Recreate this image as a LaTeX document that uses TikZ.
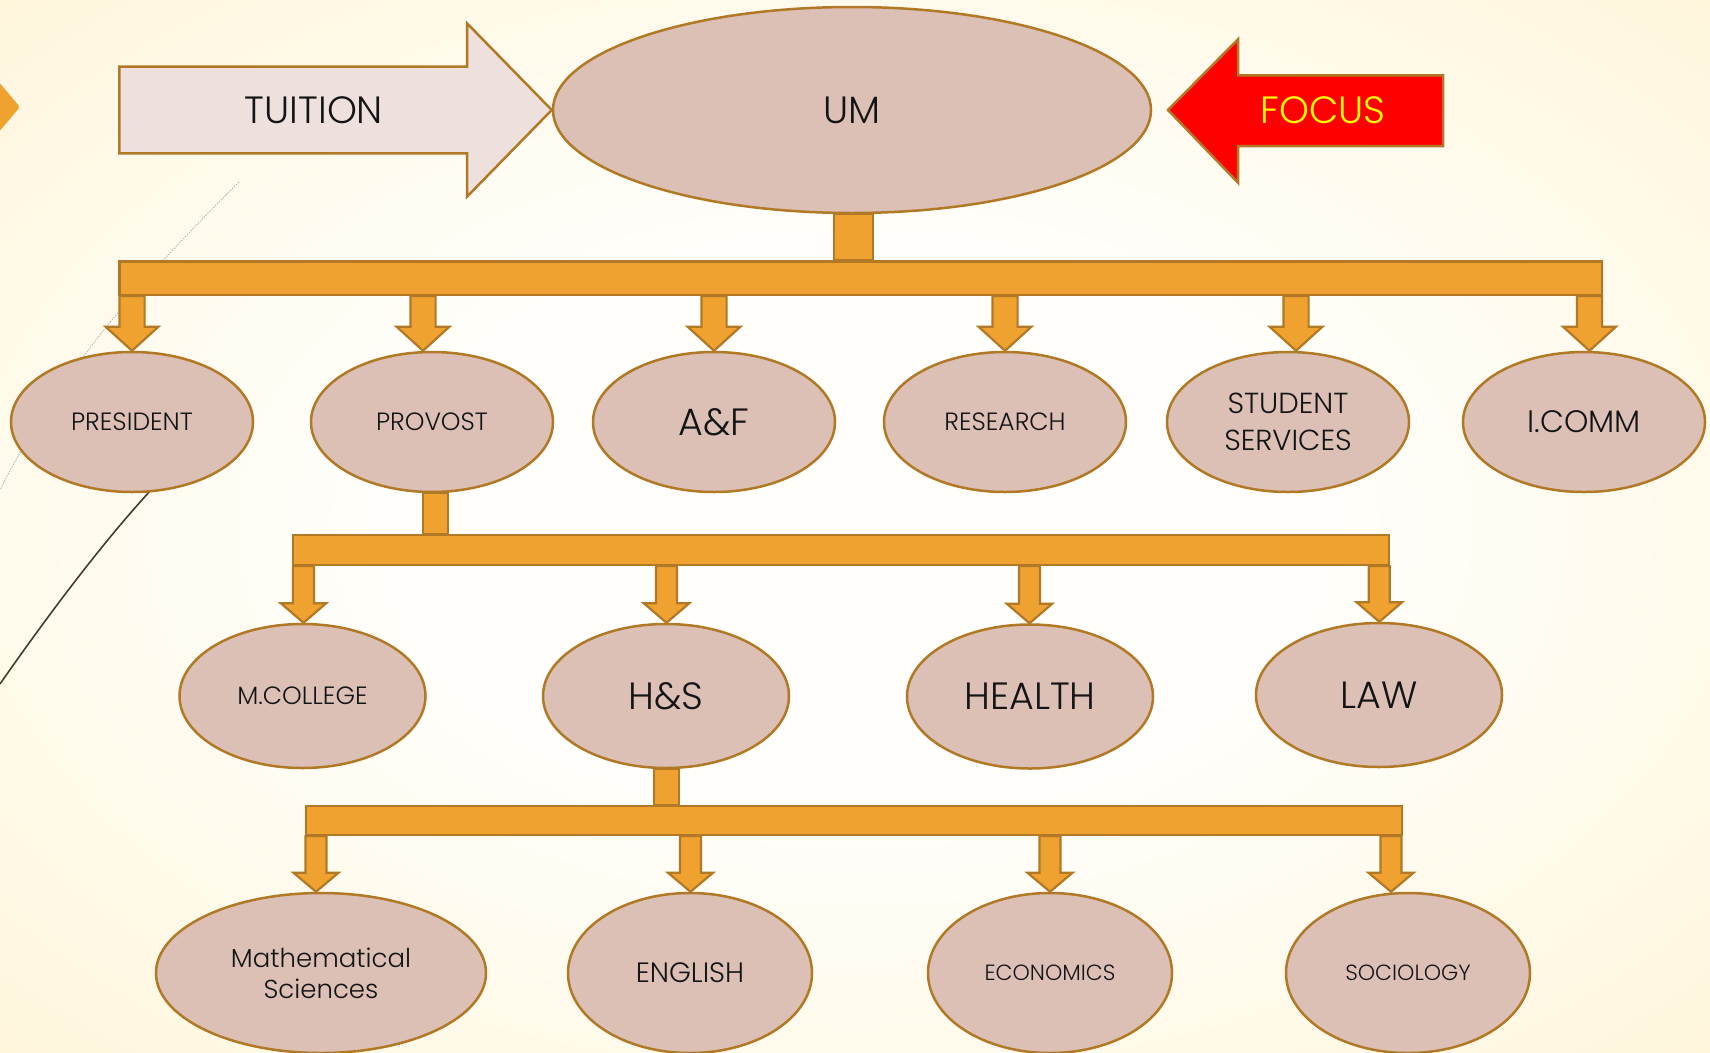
\documentclass[tikz,border=0pt]{standalone}
\usepackage{fontspec}
\setmainfont{Poppins}[UprightFont={* Light}]
\usepackage{xcolor}
\usepackage{tikz}
\usetikzlibrary{shapes.geometric,calc}

\definecolor{bgyellow}{RGB}{252,230,178}
\definecolor{bgmid}{RGB}{253,239,203}
\definecolor{bgpale}{RGB}{255,248,228}
\definecolor{bgwhite}{RGB}{255,254,250}
\definecolor{rimbrown}{RGB}{177,121,37}
\definecolor{barorange}{RGB}{239,162,47}
\definecolor{unitpink}{RGB}{220,192,181}
\definecolor{tuitionpink}{RGB}{238,225,221}
\definecolor{curvedark}{RGB}{72,58,44}
\definecolor{focusred}{RGB}{255,0,0}
\definecolor{focusyellow}{RGB}{255,255,0}

\pgfdeclareradialshading{slidebg}{\pgfpoint{0bp}{0bp}}{%
  color(0bp)=(bgwhite); color(14bp)=(bgwhite); color(30bp)=(bgpale);
  color(45bp)=(bgmid); color(70bp)=(bgyellow)}

\newcommand{\bigsize}{\fontsize{38}{44}\selectfont}
\newcommand{\midsize}{\fontsize{29}{36.7}\selectfont}
\newcommand{\smallsize}{\fontsize{25}{30}\selectfont}
\newcommand{\tinysize}{\fontsize{22}{26}\selectfont}

% block arrow: x, from node, to node, shaft half, head half, head length
\newcommand{\droparrow}[6]{%
  \draw[barfill] ($(#1,0 |- #2.south)+(-#4,0)$) -- ($(#1,0 |- #3.north)+(-#4,-#6)$)
    -- ($(#1,0 |- #3.north)+(-#5,-#6)$) -- (#1,0 |- #3.north)
    -- ($(#1,0 |- #3.north)+(#5,-#6)$) -- ($(#1,0 |- #3.north)+(#4,-#6)$)
    -- ($(#1,0 |- #2.south)+(#4,0)$) -- cycle;}

\begin{document}
\begin{tikzpicture}[x=1pt,y=-1pt,
    unit/.style={ellipse, draw=rimbrown, fill=unitpink, line width=2.5pt,
      inner sep=0pt, text=black!92, align=center},
    tierone/.style={unit, minimum width=242, minimum height=140},
    tiertwo/.style={unit, minimum width=246, minimum height=144},
    tierthree/.style={unit, minimum width=244, minimum height=160},
    barfill/.style={draw=rimbrown, fill=barorange, line width=2.2pt, line join=miter},
    railbar/.style={rectangle, barfill, inner sep=0pt}]
    \useasboundingbox (0,0) rectangle (1710,1052);

    % Background
    \shade[shading=slidebg] (0,0) rectangle (1710,1052);
    \fill[barorange, rounded corners=2pt] (-8,74) -- (20,107) -- (-8,140) -- cycle;
    \draw[gray!60, line width=0.8pt, dash pattern=on 1.5pt off 1.2pt]
        (239,182) .. controls (150,270) and (60,370) .. (0,490);
    \draw[curvedark, line width=1.6pt]
        (152,489) .. controls (110,534) and (55,605) .. (0,684);

    % Top
    \node[unit, minimum width=598, minimum height=206, font=\bigsize] (um) at (852,110) {UM};
    \draw[draw=rimbrown, fill=tuitionpink, line width=2.5pt]
        (119.4,66.7) -- (467,66.7) -- (467,23.3) -- (um.west) -- (467,196.7)
        -- (467,153.3) -- (119.4,153.3) -- cycle;
    \node[font=\bigsize, text=black!92] (tuition) at (314,110) {TUITION};
    \draw[draw=rimbrown, fill=focusred, line width=2.5pt]
        (1168,110) -- (1238,39.3) -- (1238,75.3) -- (1443,75.3) -- (1443,146)
        -- (1238,146) -- (1238,182.7) -- cycle;
    \node[font=\bigsize, text=focusyellow] (focus) at (1323,110) {FOCUS};

    % First level
    \node[railbar, minimum width=1482.6, minimum height=33.5] (bar1) at (860.7,278.2) {};
    \draw[barfill] ($(um.south)+(-18,0)$) rectangle ($(um.south |- bar1.north)+(21,0)$);
    \node[tierone, font=\smallsize] (president) at (132,422) {PRESIDENT};
    \node[tierone, font=\smallsize] (provost) at (432,422) {PROVOST};
    \node[tierone, font=\bigsize] (af) at (714,422) {A\&F};
    \node[tierone, font=\smallsize] (research) at (1005,422) {RESEARCH};
    \node[tierone, font=\midsize] (student) at (1288,422) {STUDENT\\SERVICES};
    \node[tierone, font=\fontsize{31}{36}\selectfont] (icomm) at (1584,422) {I.COMM};
    \foreach \x/\n in {132/president, 423/provost, 714/af, 1005/research,
                       1296/student, 1589.5/icomm}
        {\droparrow{\x}{bar1}{\n}{12.6}{26.4}{24}}

    % Second level
    \node[railbar, minimum width=1096.5, minimum height=30] (bar2) at (841,550) {};
    \draw[barfill] ($(provost.south)+(-9,0)$) rectangle ($(provost.south |- bar2.north)+(16,0)$);
    \node[tiertwo, font=\smallsize] (mcollege) at (302.5,696) {M.COLLEGE};
    \node[tiertwo, font=\bigsize] (hs) at (666,696) {H\&S};
    \node[tiertwo, font=\bigsize] (health) at (1030,696.5) {HEALTH};
    \node[tiertwo, font=\bigsize] (law) at (1379,695) {LAW};
    \foreach \x/\n in {303.5/mcollege, 666.5/hs, 1029.5/health, 1379.3/law}
        {\droparrow{\x}{bar2}{\n}{10.5}{22.7}{19.5}}

    % Third level
    \node[railbar, minimum width=1095.7, minimum height=29] (bar3) at (853.9,820.5) {};
    \draw[barfill] ($(hs.south)+(-12,0)$) rectangle ($(hs.south |- bar3.north)+(13,0)$);
    \node[tierthree, minimum width=330, font=\fontsize{26}{31}\selectfont] (math) at (321,973) {Mathematical\\Sciences};
    \node[tierthree, font=\fontsize{28}{32}\selectfont] (english) at (690,973) {ENGLISH};
    \node[tierthree, font=\tinysize] (econ) at (1050,973) {ECONOMICS};
    \node[tierthree, font=\tinysize] (socio) at (1408,973) {SOCIOLOGY};
    \foreach \x/\n in {316/math, 690.5/english, 1050/econ, 1391/socio}
        {\droparrow{\x}{bar3}{\n}{10.5}{22.5}{19}}
\end{tikzpicture}
\end{document}
